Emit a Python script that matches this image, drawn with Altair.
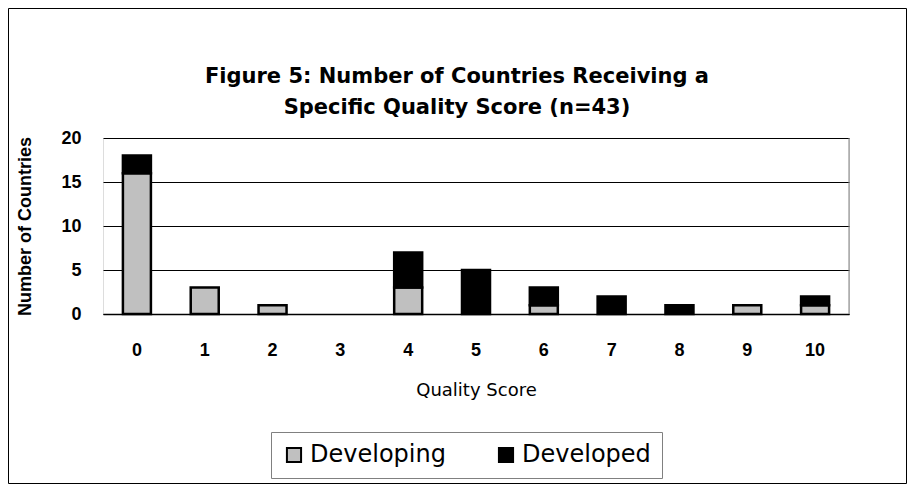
import altair as alt
import pandas as pd

scores = ["0", "1", "2", "3", "4", "5", "6", "7", "8", "9", "10"]
developing = [16, 3, 1, 0, 3, 0, 1, 0, 0, 1, 1]
developed = [2, 0, 0, 0, 4, 5, 2, 2, 1, 0, 1]
groups = ["Developing", "Developed"]
colors = ["#c0c0c0", "#000000"]
title_lines = ["Figure 5:  Number of Countries Receiving a", "Specific Quality Score (n=43)"]

rows = []
for s, a, b in zip(scores, developing, developed):
    rows.append({"score": s, "group": groups[0], "count": a, "ord": 0})
    rows.append({"score": s, "group": groups[1], "count": b, "ord": 1})
df = pd.DataFrame(rows)
df = df[df["count"] > 0]

W, H = 746, 176

bars = alt.Chart(df).mark_bar(size=28, stroke="black", strokeWidth=2.5).encode(
    x=alt.X("score:N", sort=scores, title="Quality Score",
            scale=alt.Scale(domain=scores, paddingInner=0.58, paddingOuter=0.29),
            axis=alt.Axis(labelAngle=0, ticks=False, domain=True, domainColor="black",
                          domainWidth=1.5, labelFont="Liberation Sans", labelFontWeight="bold",
                          labelFontSize=18, labelPadding=27, labelColor="black",
                          titleFont="DejaVu Sans", titleFontWeight="normal", titleFontSize=18,
                          titleColor="black", titlePadding=22, grid=False)),
    y=alt.Y("count:Q", stack="zero", title="Number of Countries",
            scale=alt.Scale(domain=[0, 20], nice=False),
            axis=alt.Axis(values=[0, 5, 10, 15, 20], ticks=False, domain=False,
                          grid=True, gridColor="black", gridWidth=1, gridOpacity=1,
                          labelFont="Liberation Sans", labelFontWeight="bold", labelFontSize=18,
                          labelPadding=22, labelColor="black",
                          titleFont="Liberation Sans", titleFontWeight="bold", titleFontSize=18,
                          titleColor="black", titlePadding=26)),
    color=alt.Color("group:N", sort=groups,
                    scale=alt.Scale(domain=groups, range=colors),
                    legend=alt.Legend(title=None, orient="none", legendX=168, legendY=294,
                                      direction="horizontal", symbolType="square",
                                      symbolSize=200, symbolStrokeColor="black",
                                      symbolStrokeWidth=2, labelFont="DejaVu Sans",
                                      labelFontSize=24, labelColor="black", labelOffset=4,
                                      columnPadding=48, padding=11, strokeColor="#808080",
                                      labelLimit=300)),
    order=alt.Order("ord:Q"),
)

right_edge = alt.Chart(alt.Data(values=[{}])).mark_rule(color="#808080", strokeWidth=1).encode(
    x=alt.value(W), y=alt.value(0), y2=alt.value(H)
)

border = alt.Chart(alt.Data(values=[{}])).mark_rect(fill=None, stroke="black", strokeWidth=1).encode(
    x=alt.value(-94.5), x2=alt.value(803.5), y=alt.value(-129.5), y2=alt.value(345.5)
)

title1 = alt.Chart(alt.Data(values=[{"t": title_lines[0]}])).mark_text(
    font="DejaVu Sans", fontSize=21, fontWeight="bold", color="black",
    align="center", baseline="middle"
).encode(text="t:N", x=alt.value(354), y=alt.value(-61))
title2 = alt.Chart(alt.Data(values=[{"t": title_lines[1]}])).mark_text(
    font="DejaVu Sans", fontSize=21, fontWeight="bold", color="black",
    align="center", baseline="middle"
).encode(text="t:N", x=alt.value(354), y=alt.value(-30))

chart = alt.layer(bars, right_edge, border, title1, title2).properties(
    width=W, height=H,
    autosize=alt.AutoSizeParams(type="none"),
    padding={"left": 95, "top": 130, "right": 58, "bottom": 170},
).configure_view(stroke=None).configure(background="white")

chart.save("out.html", embed_options={"renderer": "svg", "actions": False})
